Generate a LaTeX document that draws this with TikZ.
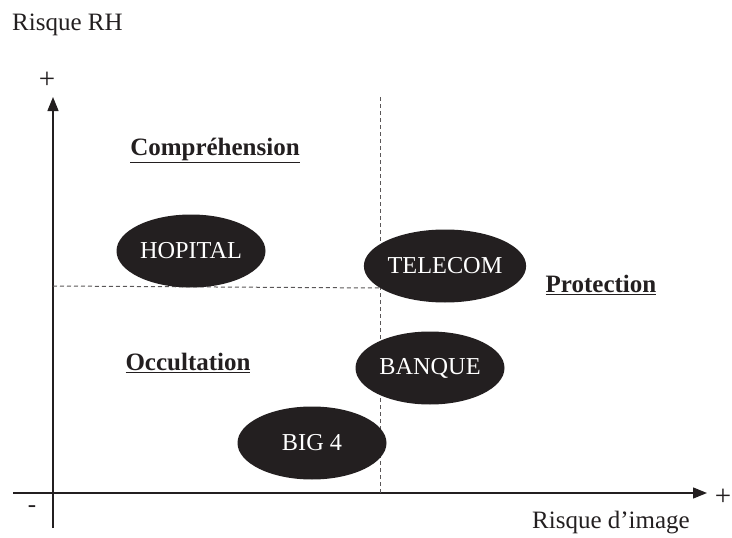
\documentclass[tikz,border=0pt]{standalone}
\usepackage{fontspec}
\setmainfont{Liberation Serif}
\usetikzlibrary{shapes.geometric,arrows.meta}
\definecolor{ink}{HTML}{231F20}
\tikzset{
  blob/.style={ellipse,fill=ink,text=white,inner sep=0pt,minimum width=149pt,minimum height=73pt,font=\fontsize{24.3}{27}\selectfont},
  lbl/.style={text=ink,inner sep=0pt,font=\fontsize{25}{29}\selectfont},
  sign/.style={text=ink,inner sep=0pt,font=\fontsize{29}{32}\selectfont},
  zone/.style={text=ink,inner sep=0pt,font=\fontsize{25}{29}\selectfont\bfseries},
  axis/.style={draw=ink,line width=1.4pt},
  guide/.style={draw=ink!75,line width=1pt,dash pattern=on 4pt off 3pt}
}
\begin{document}
\begin{tikzpicture}[x=1pt,y=-1pt]
\useasboundingbox (0,0) rectangle (732,538);
% axes
\coordinate (o) at (53,493);
\coordinate (ybot) at (53,528);
\coordinate (ytop) at (53,97);
\coordinate (xleft) at (13,493);
\coordinate (xright) at (707,493);
\draw[axis] (ybot) -- (o);
\draw[axis,-{Triangle[length=14pt,width=11pt]}] (o) -- (ytop);
\draw[axis] (xleft) -- (o);
\draw[axis,-{Triangle[length=14pt,width=11pt]}] (o) -- (xright);
% guides
\coordinate (vtop) at (380,97);
\coordinate (vbot) at (380,493);
\coordinate (hl) at (53,286);
\coordinate (hr) at (380,288);
\draw[guide] (vtop) -- (vbot);
\draw[guide] (hl) -- (hr);
% labels
\node[lbl,anchor=west] (yl) at (12,25) {Risque RH};
\node[sign] (yp) at (47,80) {+};
\node[sign] (xp) at (723,497) {+};
\node[lbl] (xm) at (32,509) {-};
\node[lbl] (xl) at (611,523) {Risque d’image};
% zones
\node[zone] (comp) at (215,150) {\underline{Compréhension}};
\node[zone] (prot) at (601,285) {\underline{Protection}};
\node[zone] (occ) at (188,363) {\underline{Occultation}};
% ellipses
\node[blob] (hop) at (191,251) {HOPITAL};
\node[blob] (tel) at (445,266) {TELECOM};
\node[blob] (ban) at (430,368) {BANQUE};
\node[blob] (big) at (312,443) {BIG 4};
\end{tikzpicture}
\end{document}
